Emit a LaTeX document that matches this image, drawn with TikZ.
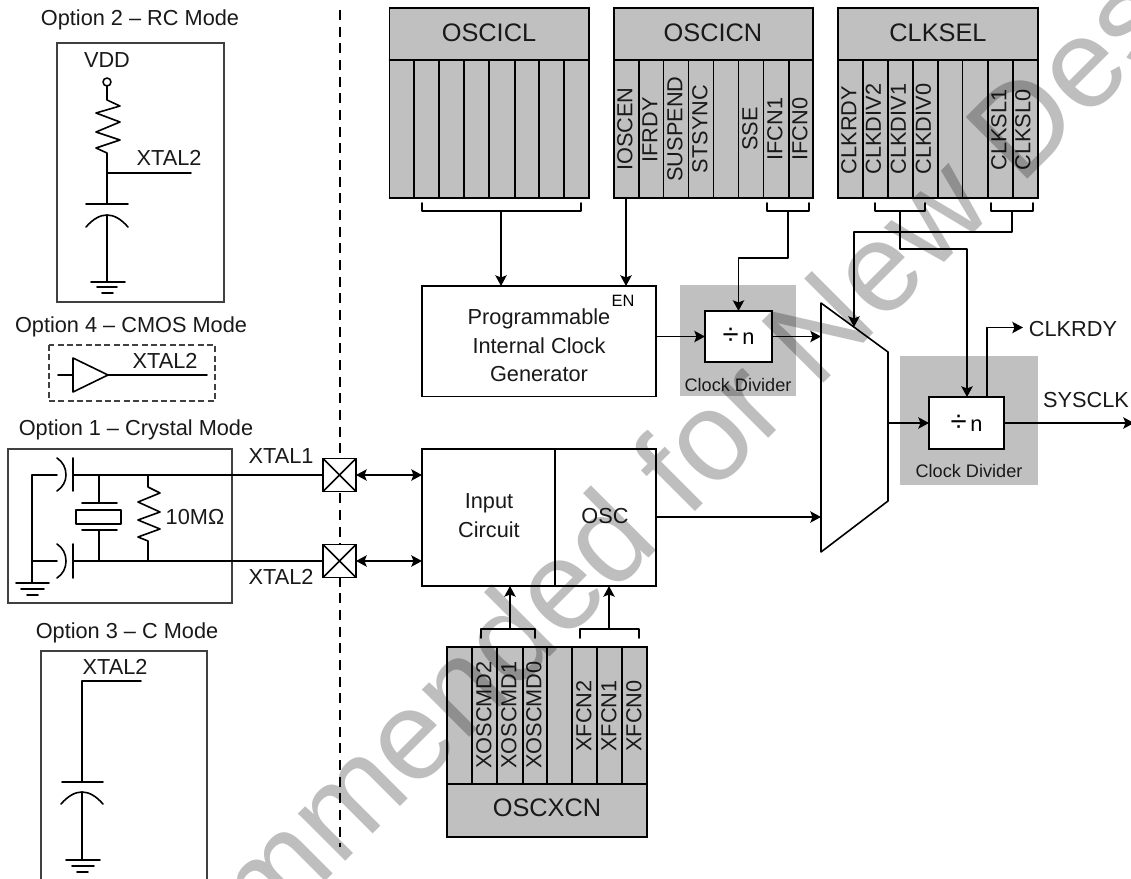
\documentclass[tikz,border=0pt]{standalone}
\usepackage{fontspec}
\setmainfont{Liberation Sans}
\usetikzlibrary{arrows.meta,calc}
\def\px{0.75pt}
\definecolor{reg}{HTML}{C0C0C0}
\definecolor{wm}{HTML}{BEBEBE}
\tikzset{
  wire/.style={line width=1.2pt,black,line cap=round,line join=round},
  thinbox/.style={draw=black!75,line width=0.8pt},
  arr/.style={wire,-{Stealth[length=8pt,width=8.5pt,inset=1.6pt]}},
  darr/.style={wire,{Stealth[length=8pt,width=8.5pt,inset=1.6pt]}-{Stealth[length=8pt,width=8.5pt,inset=1.6pt]}},
  txt/.style={inner sep=0pt,outer sep=0pt,font=\fontsize{16.3}{20}\selectfont,text=black!90},
  head/.style={inner sep=0pt,font=\fontsize{19}{22}\selectfont,text=black!90},
  small/.style={inner sep=0pt,font=\fontsize{13.6}{16}\selectfont,text=black!90},
  bit/.style={inner sep=0pt,rotate=90,font=\fontsize{16.3}{20}\selectfont,text=black!90},
  block/.style={draw=black,line width=1.2pt,fill=white,inner sep=0pt,outer sep=0pt,anchor=north west,align=center},
  regbox/.style={draw=black,line width=1.2pt,fill=reg,inner sep=0pt,outer sep=0pt,anchor=north west},
  divzone/.style={fill=reg,draw=none,inner sep=0pt,outer sep=0pt,anchor=north west},
  pin/.style={draw=black,line width=1.4pt,fill=white,inner sep=0pt,outer sep=0pt,anchor=north west,minimum width=33*\px,minimum height=33*\px},
}
\begin{document}
\begin{tikzpicture}[x=\px,y=-\px]
\clip (0,0) rectangle (1131,878);
\fill[white] (0,0) rectangle (1131,878);

% separator
\draw[line width=1.7pt,dash pattern=on 7.5pt off 5pt] (340,10) -- (340,847);

% Option 2
\node[txt] (t2) at (140,20) {Option 2 – RC Mode};
\draw[thinbox] (57,43) rectangle (224,302);
\node[txt] (vdd) at (107,60) {VDD};
\draw[wire] (107,86) -- (107,100) -- (120,106) -- (96,113) -- (120,122) -- (96,132) -- (120,140) -- (96,148) -- (107,153) -- (107,204);
\draw[wire,fill=white] (107,82) circle[radius=4];
\draw[wire] (107,173) -- (191,173);
\node[txt] (x2a) at (169,158) {XTAL2};
\draw[wire] (86,204) -- (128,204);
\draw[wire] (86,227) .. controls (93,219) and (100,215) .. (107,215) .. controls (114,215) and (121,219) .. (128,227);
\draw[wire] (107,215) -- (107,282);
\draw[wire] (91,282) -- (125,282) (97,287) -- (117,287) (102,293) -- (113,293);

% Option 4
\node[txt] (t4) at (131,327) {Option 4 – CMOS Mode};
\draw[thinbox,dashed,dash pattern=on 4.5pt off 2.5pt] (49,345) rectangle (215,401);
\node[txt] (x2b) at (165,361) {XTAL2};
\draw[wire] (58,375) -- (73,375);
\draw[wire] (73,358) -- (108,375) -- (73,392) -- cycle;
\draw[wire] (108,375) -- (207,375);

% Option 1
\node[txt] (t1) at (136,430) {Option 1 – Crystal Mode};
\draw[thinbox] (8,449) rectangle (232,603);
\node[txt] (x1) at (281,456) {XTAL1};
\node[txt] (x2c) at (281,577) {XTAL2};
\node[txt] (mohm) at (195,517) {10MΩ};
\node[pin] (p1) at (323,458.5) {};
\node[pin] (p2) at (323,544.5) {};
\draw[line width=1.1pt] (p1.north west) -- (p1.south east) (p1.north east) -- (p1.south west);
\draw[line width=1.1pt] (p2.north west) -- (p2.south east) (p2.north east) -- (p2.south west);
\draw[wire] (p1.west) -- (73,475);
\draw[wire] (p2.west) -- (73,561);
\draw[wire] (57,475) -- (32,475) -- (32,583);
\draw[wire] (32,561) -- (57,561);
\draw[wire] (73,458) -- (73,491) (73,544) -- (73,578);
\draw[wire] (57,458) .. controls (63,462) and (66,468) .. (66,475) .. controls (66,481) and (63,487) .. (57,491);
\draw[wire] (57,544) .. controls (63,548) and (66,554) .. (66,561) .. controls (66,568) and (63,574) .. (57,578);
\draw[wire] (16,583) -- (49,583) (21,589) -- (44,589) (27,595) -- (38,595);
\draw[wire] (99,475) -- (99,503) (82,503) -- (117,503);
\draw[wire] (76,510) rectangle (121,524);
\draw[wire] (82,530) -- (117,530) (99,530) -- (99,561);
\draw[wire] (148,475) -- (148,487) -- (160,493) -- (138,502) -- (160,512) -- (138,520) -- (160,529) -- (138,537) -- (148,541) -- (148,561);

% Option 3
\node[txt] (t3) at (127,633) {Option 3 – C Mode};
\draw[thinbox] (41,890) -- (41,651) -- (207,651) -- (207,890);
\node[txt] (x2d) at (115,667) {XTAL2};
\draw[wire] (141,681) -- (82,681) -- (82,782);
\draw[wire] (62,782) -- (103,782);
\draw[wire] (61,804) .. controls (68,796) and (75,792) .. (82,792) .. controls (89,792) and (96,796) .. (103,804);
\draw[wire] (82,792) -- (82,860);
\draw[wire] (66,860) -- (100,860) (72,866) -- (94,866) (77,872) -- (88,872);

% OSCICL
\node[regbox,minimum width=199.5*\px,minimum height=190*\px] (oscicl) at (389.5,8) {};
\draw[wire] (389.5,60) -- (589,60);
\foreach \x in {414,439,464,489,515,539,564} \draw[wire] (\x,60) -- (\x,198);
\node[head] (oscicllbl) at (489,33) {OSCICL};
\draw[wire] (422,203) -- (422,211) -- (581,211) -- (581,203);
\coordinate (b1) at (501,211);

% OSCICN
\node[regbox,minimum width=199*\px,minimum height=190*\px] (oscicn) at (614,8) {};
\draw[wire] (614,60) -- (813,60);
\foreach \x in {638.7,663.3,688.3,713.3,738.3,763.3,788.7} \draw[wire] (\x,60) -- (\x,198);
\node[head] (osciclbl2) at (713,33) {OSCICN};
\node[bit] (iosc) at (625,129) {IOSCEN};
\node[bit] (ifrdy) at (650,130) {IFRDY};
\node[bit] (susp) at (675,129) {SUSPEND};
\node[bit] (stsy) at (700,129) {STSYNC};
\node[bit] (sse) at (750,129) {SSE};
\node[bit] (ifcn1) at (775,129) {IFCN1};
\node[bit] (ifcn0) at (800,129) {IFCN0};
\draw[wire] (767,203) -- (767,211) -- (809,211) -- (809,203);
\coordinate (b2) at (788,211);
\coordinate (enb) at (626,198);

% CLKSEL
\node[regbox,minimum width=200*\px,minimum height=190*\px] (clksel) at (838,8) {};
\draw[wire] (838,60) -- (1038,60);
\foreach \x in {862.7,887.7,912.7,937.7,962.3,987.7,1012.7} \draw[wire] (\x,60) -- (\x,198);
\node[head] (clksellbl) at (938,33) {CLKSEL};
\node[bit] (crdy) at (849,130) {CLKRDY};
\node[bit] (cd2) at (873.5,129) {CLKDIV2};
\node[bit] (cd1) at (898.5,129) {CLKDIV1};
\node[bit] (cd0) at (923.5,129) {CLKDIV0};
\node[bit] (sl1) at (999,130) {CLKSL1};
\node[bit] (sl0) at (1023,130) {CLKSL0};
\draw[wire] (875,203) -- (875,211) -- (925,211) -- (925,203);
\draw[wire] (991,203) -- (991,211) -- (1033,211) -- (1033,203);
\coordinate (b3) at (900,211);
\coordinate (b4) at (1012,211);

% Programmable generator
\node[block,minimum width=234*\px,minimum height=110.5*\px] (prog) at (422,286) {};
\node[txt] (pg1) at (539,319) {Programmable};
\node[txt] (pg2) at (539,346) {Internal Clock};
\node[txt] (pg3) at (539,374) {Generator};
\node[inner sep=0pt,font=\fontsize{12.3}{14}\selectfont] (en) at (623,301) {EN};

% Divider 1
\node[divzone,minimum width=116*\px,minimum height=111*\px] (dz1) at (680,285) {};
\node[block,minimum width=67*\px,minimum height=51*\px,font=\fontsize{16.3}{20}\selectfont] (d1) at (705,311) {{\fontsize{22}{22}\selectfont ÷}\,n};
\node[small] (cd1lbl) at (738,385) {Clock Divider};

% Input circuit
\node[block,minimum width=234*\px,minimum height=137*\px] (inp) at (422,449) {};
\draw[wire] (555,449) -- (555,586);
\node[txt] (ic1) at (489,503) {Input};
\node[txt] (ic2) at (489,530) {Circuit};
\node[txt] (osclbl) at (605,516) {OSC};

% Mux
\coordinate (mta) at (821,303);
\coordinate (mtb) at (888,352);
\coordinate (mbb) at (888,501);
\coordinate (mba) at (821,552);
\draw[wire,fill=white] (mta) -- (mtb) -- (mbb) -- (mba) -- cycle;

% Divider 2
\node[divzone,minimum width=138*\px,minimum height=129*\px] (dz2) at (900,356) {};
\node[block,minimum width=75*\px,minimum height=52*\px,font=\fontsize{16.3}{20}\selectfont] (d2) at (929,397) {{\fontsize{22}{22}\selectfont ÷}\,n};
\node[small] (cd2lbl) at (969,471) {Clock Divider};
\node[txt] (sysclk) at (1086,400) {SYSCLK};
\node[txt] (clkrdy) at (1073,329) {CLKRDY};

% OSCXCN
\node[regbox,minimum width=200*\px,minimum height=190*\px] (oscx) at (447,647) {};
\draw[wire] (447,784) -- (647,784);
\foreach \x in {472,497,523,547,572,597,622} \draw[wire] (\x,647) -- (\x,784);
\node[head] (oscxlbl) at (547,808) {OSCXCN};
\node[bit] (xm2) at (484,715) {XOSCMD2};
\node[bit] (xm1) at (509,715) {XOSCMD1};
\node[bit] (xm0) at (534,715) {XOSCMD0};
\node[bit] (xf2) at (584,716) {XFCN2};
\node[bit] (xf1) at (609,716) {XFCN1};
\node[bit] (xf0) at (634,716) {XFCN0};
\draw[wire] (481,638) -- (481,629) -- (535,629) -- (535,638);
\draw[wire] (580,638) -- (580,629) -- (639,629) -- (639,638);
\coordinate (b5) at (510,629);
\coordinate (b6) at (609,629);

% Connectors
\draw[arr] (b1) -- (b1 |- prog.north);
\draw[arr] (enb) -- (enb |- prog.north);
\draw[arr] (b2) -- (788,258) -- (d1.north |- 0,258) -- (d1.north);
\draw[arr] (b3) -- (900,249) -- (967,249) -- (967,397);
\draw[arr] (b4) -- (1012,232) -- (854,232) -- (854,327);
\draw[arr] (prog.east |- d1.west) -- (d1.west);
\draw[arr] (d1.east) -- (mta |- d1.east);
\draw[arr] (inp.east |- 0,517) -- (mta |- 0,517);
\draw[arr] (mtb |- d2.west) -- (d2.west);
\draw[arr] (d2.east) -- (1134,423);
\draw[arr] (987,397) -- (987,327.5) -- (1023,327.5);
\draw[darr] (p1.east) -- (inp.west |- p1.east);
\draw[darr] (p2.east) -- (inp.west |- p2.east);
\draw[arr] (b5) -- (b5 |- inp.south);
\draw[arr] (b6) -- (b6 |- inp.south);

% Watermark
\begin{scope}[blend mode=multiply]
\node[inner sep=0pt,rotate=45,text=wm,font=\fontsize{95}{110}\selectfont,anchor=base west] (wmk) at (-109,1316) {Not Recommended for New Designs};
\end{scope}
\end{tikzpicture}
\end{document}
